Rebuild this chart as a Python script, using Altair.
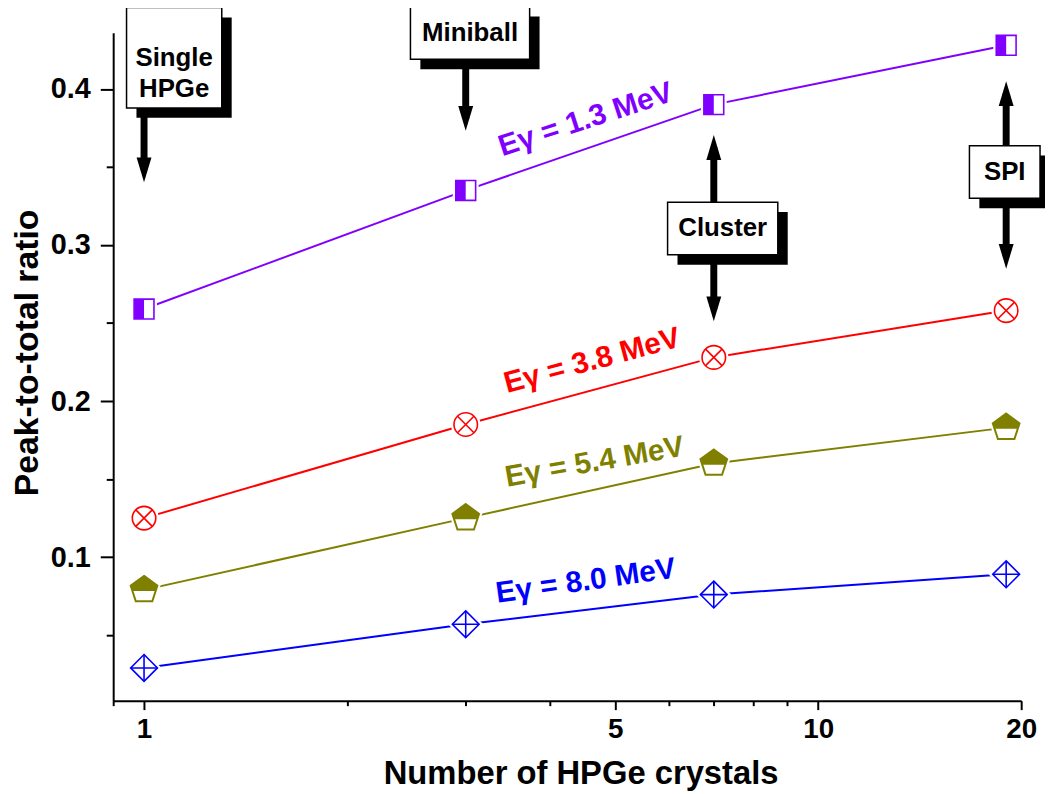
import altair as alt
import pandas as pd

# ---------------- data ----------------
crystals = [1, 3, 7, 19]
series_names = ["1.3 MeV", "3.8 MeV", "5.4 MeV", "8.0 MeV"]
ratio_13 = [0.259, 0.335, 0.390, 0.428]
ratio_38 = [0.125, 0.185, 0.228, 0.258]
ratio_54 = [0.079, 0.125, 0.160, 0.183]
ratio_80 = [0.029, 0.057, 0.076, 0.089]
colors = ["#8000FF", "#FF0000", "#808000", "#0000FF"]

# energy labels along the lines
label_texts = ["Eγ = 1.3 MeV", "Eγ = 3.8 MeV", "Eγ = 5.4 MeV", "Eγ = 8.0 MeV"]
label_x = [4.52, 4.62, 4.66, 4.52]
label_y = [0.3803, 0.2257, 0.1608, 0.0845]
label_angle = [342, 345, 350, 352]

# annotation boxes (data coordinates)
box_text = ["Single\nHPGe", "Miniball", "Cluster", "SPI"]
box_x1 = [0.942, 2.484, 5.978, 16.76]
box_x2 = [1.304, 3.732, 8.71, 21.33]
box_y1 = [0.4522, 0.4528, 0.3275, 0.3637]
box_y2 = [0.3879, 0.4191, 0.2938, 0.3300]

# arrows: x, start (box edge), head centre, direction
arrow_x = [1, 3, 7, 7, 19, 19]
arrow_start = [0.3879, 0.4191, 0.3275, 0.2938, 0.3637, 0.3300]
arrow_head = [0.3482, 0.3812, 0.3625, 0.2591, 0.3971, 0.2928]
arrow_dir = ["down", "down", "up", "down", "up", "down"]

FONT = "Liberation Sans, Arial, Helvetica, sans-serif"

X_SCALE = alt.Scale(type="log", domain=[0.9, 20], nice=False)
Y_SCALE = alt.Scale(domain=[0.008, 0.436], nice=False, zero=False)

all_series = [ratio_13, ratio_38, ratio_54, ratio_80]
rows = []
for name, vals in zip(series_names, all_series):
    for c, v in zip(crystals, vals):
        rows.append({"series": name, "n": c, "ratio": v})
df = pd.DataFrame(rows)

x_major = "datum.value==1||datum.value==5||datum.value==10||datum.value==20"
y_major = "abs(round(datum.value*10) - datum.value*10) < 0.01"

X_AXIS = alt.Axis(
    title="Number of HPGe crystals",
    values=[0.9, 1, 2, 3, 4, 5, 6, 7, 8, 9, 10, 20],
    labelExpr=f"({x_major}) ? format(datum.value,'d') : ''",
    tickSize={"condition": {"test": x_major, "value": 9}, "value": 5},
    labelFlush=False, labelOverlap=False, labelPadding=6, labelFontSize=28,
    titlePadding=14, titleFontSize=33, titleX=471, grid=False,
)
Y_AXIS = alt.Axis(
    title="Peak-to-total ratio",
    values=[0.05, 0.1, 0.15, 0.2, 0.25, 0.3, 0.35, 0.4],
    labelExpr=f"({y_major}) ? format(datum.value,'.1f') : ''",
    tickSize={"condition": {"test": y_major, "value": 13}, "value": 7},
    labelFlush=False, labelOverlap=False, labelPadding=10, labelFontSize=29,
    titlePadding=6, titleFontSize=34, titleY=322, grid=False,
)


def X(field):
    return alt.X(field, scale=X_SCALE, axis=X_AXIS)


def Y(field):
    return alt.Y(field, scale=Y_SCALE, axis=Y_AXIS)


base = alt.Chart(df)
color_enc = alt.Color("series:N", scale=alt.Scale(domain=series_names, range=colors), legend=None)

lines = base.mark_line(strokeWidth=2).encode(
    x=X("n:Q"), y=Y("ratio:Q"), color=color_enc, detail="series:N",
)


def enc_pts(chart):
    return chart.encode(x=X("n:Q"), y=Y("ratio:Q"))


SQUARE = "M-1,-1H1V1H-1Z"
HALF_SQ = "M-1,-1H0V1H-1Z"
XCROSS = "M-0.7,-0.7L0.7,0.7M-0.7,0.7L0.7,-0.7"
PENTA = "M0,-1L0.951,-0.309L0.588,0.809L-0.588,0.809L-0.951,-0.309Z"
PENTA_TOP = "M0,-1L0.951,-0.309L0.823,0.085L-0.823,0.085L-0.951,-0.309Z"
DIAMOND = "M0,-1L1,0L0,1L-1,0Z"
PLUS = "M0,-1L0,1M-1,0L1,0"

marker_layers = []
d13 = df[df.series == series_names[0]]
d38 = df[df.series == series_names[1]]
d54 = df[df.series == series_names[2]]
d80 = df[df.series == series_names[3]]

# purple half-filled squares
c = colors[0]
marker_layers += [
    enc_pts(alt.Chart(d13).mark_point(shape=SQUARE, size=400, filled=True, fill="white", stroke="white", strokeWidth=6, opacity=1)),
    enc_pts(alt.Chart(d13).mark_point(shape=HALF_SQ, size=400, filled=True, fill=c, opacity=1, strokeWidth=0)),
    enc_pts(alt.Chart(d13).mark_point(shape=SQUARE, size=400, filled=False, stroke=c, strokeWidth=1.6, opacity=1)),
]
# red circle with X
c = colors[1]
marker_layers += [
    enc_pts(alt.Chart(d38).mark_point(shape="circle", size=560, filled=True, fill="white", stroke="white", strokeWidth=6, opacity=1)),
    enc_pts(alt.Chart(d38).mark_point(shape="circle", size=560, filled=False, stroke=c, strokeWidth=1.6, opacity=1)),
    enc_pts(alt.Chart(d38).mark_point(shape=XCROSS, size=560, filled=False, stroke=c, strokeWidth=1.6, opacity=1)),
]
# olive pentagon, top filled
c = colors[2]
marker_layers += [
    enc_pts(alt.Chart(d54).mark_point(shape=PENTA, size=800, filled=True, fill="white", stroke="white", strokeWidth=6, opacity=1)),
    enc_pts(alt.Chart(d54).mark_point(shape=PENTA_TOP, size=800, filled=True, fill=c, opacity=1, strokeWidth=0)),
    enc_pts(alt.Chart(d54).mark_point(shape=PENTA, size=800, filled=False, stroke=c, strokeWidth=2, opacity=1)),
]
# blue diamond with cross
c = colors[3]
marker_layers += [
    enc_pts(alt.Chart(d80).mark_point(shape=DIAMOND, size=729, filled=True, fill="white", stroke="white", strokeWidth=6, opacity=1)),
    enc_pts(alt.Chart(d80).mark_point(shape=DIAMOND, size=729, filled=False, stroke=c, strokeWidth=1.6, opacity=1)),
    enc_pts(alt.Chart(d80).mark_point(shape=PLUS, size=729, filled=False, stroke=c, strokeWidth=1.6, opacity=1)),
]

# energy labels
lab_df = pd.DataFrame({"t": label_texts, "x": label_x, "y": label_y})
label_layers = []
for i in range(4):
    label_layers.append(
        alt.Chart(lab_df.iloc[[i]]).mark_text(
            font=FONT, fontSize=30, fontWeight="bold", color=colors[i],
            angle=label_angle[i], align="center", baseline="middle",
        ).encode(x=X("x:Q"), y=Y("y:Q"), text="t:N")
    )

# annotation boxes
box_df = pd.DataFrame({
    "t": box_text, "x1": box_x1, "x2": box_x2, "y1": box_y1, "y2": box_y2,
})
box_df["xc"] = (box_df["x1"] * box_df["x2"]) ** 0.5
box_df["yc"] = (box_df["y1"] + box_df["y2"]) / 2

arr_df = pd.DataFrame({"x": arrow_x, "y0": arrow_start, "yh": arrow_head, "d": arrow_dir})
arr_df["shape"] = arr_df["d"].map({"down": "M-0.6,-1L0.6,-1L0,1Z", "up": "M-0.6,1L0.6,1L0,-1Z"})

shafts = alt.Chart(arr_df).mark_rule(color="black", strokeWidth=7).encode(
    x=X("x:Q"), y=Y("y0:Q"), y2="yh:Q",
)
heads = alt.Chart(arr_df).mark_point(filled=True, color="black", size=625, opacity=1).encode(
    x=X("x:Q"), y=Y("yh:Q"), shape=alt.Shape("shape:N", scale=None),
)

shadow = alt.Chart(box_df).mark_rect(color="black", xOffset=10, x2Offset=10, yOffset=10, y2Offset=10).encode(
    x=X("x1:Q"), x2="x2:Q", y=Y("y1:Q"), y2="y2:Q",
)
boxes = alt.Chart(box_df).mark_rect(fill="white", stroke="black", strokeWidth=1.5).encode(
    x=X("x1:Q"), x2="x2:Q", y=Y("y1:Q"), y2="y2:Q",
)
box_txt = alt.Chart(box_df).mark_text(
    font=FONT, fontSize=26, fontWeight="bold", color="black",
    align="center", baseline="middle", lineBreak="\n", lineHeight=32,
).encode(x=X("xc:Q"), y=Y("yc:Q"), text="t:N")

chart = alt.layer(
    lines, *marker_layers, *label_layers, shafts, heads, shadow, boxes, box_txt
).properties(
    width=915, height=673,
    autosize=alt.AutoSizeParams(type="none"),
    padding={"left": 106, "top": 22, "right": 24, "bottom": 91},
).configure_view(strokeWidth=0).configure_axis(
    domainColor="black", domainWidth=2, tickColor="black", tickWidth=2,
    labelFont=FONT, labelFontWeight="bold", labelColor="black",
    titleFont=FONT, titleFontWeight="bold", titleColor="black",
)

chart.save("out.html", embed_options={"renderer": "svg", "actions": False})
